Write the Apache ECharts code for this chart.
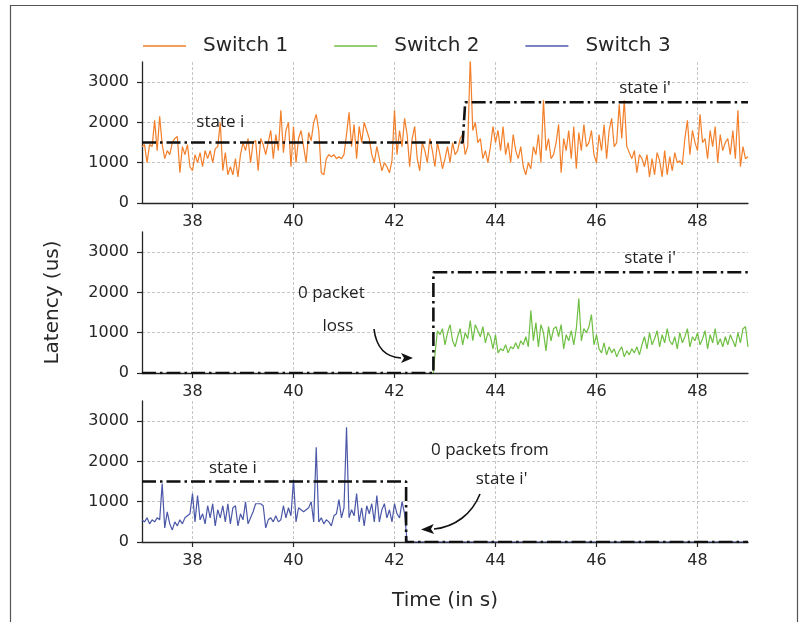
<!DOCTYPE html>
<html>
<head>
<meta charset="utf-8">
<title>Latency</title>
<style>
    html, body { margin: 0; background: #fff; }
    #chart { width: 804px; height: 622px; }
</style>
</head>
<body>
<div id="chart"></div>
<script src="https://cdn.jsdelivr.net/npm/echarts/dist/echarts.min.js"></script>
<script>
// sample spacing of the latency traces (s)
const STEP = 0.05;

// Switch 1: 37.00 .. 49.00 s
const switch1Start = 37;
const switch1 = [
    1400,1450,1000,1450,1400,2050,1300,2150,1450,1100,1300,1200,1500,1600,1650,750,1400,1200,1450,900,
    800,1200,1000,1250,900,1300,1100,1300,1000,1350,1400,2000,800,1250,700,900,700,1100,650,1200,
    1500,1300,1600,1000,1500,1550,800,1600,1450,1200,1500,1800,1100,1700,1300,2300,1250,1800,2000,900,
    1900,1000,1600,1800,1400,1000,1750,1550,2000,2200,1800,750,700,1100,1200,1150,1200,1100,1150,1100,
    1200,1700,2250,1400,1950,1100,1900,1500,2000,1800,1600,1200,1000,1400,1100,800,1000,900,750,1050,
    2300,1200,1800,1400,2100,1700,900,1600,1900,1100,800,1500,1300,1000,1600,1300,900,1500,1200,850,
    1100,1400,1000,1500,1200,1300,1600,1700,1200,1400,3600,1800,2000,1500,1600,1100,1300,1000,1400,1900,
    1500,1800,1300,1900,1200,1500,1000,1700,1300,1100,1400,900,700,1000,850,1400,1200,1700,1000,2550,
    1300,1600,1100,1200,1500,1950,750,1600,1300,1800,1100,1900,850,1750,1300,1950,1400,1500,1800,1200,
    1000,1700,1300,1950,1100,1800,2100,1400,1500,2450,1600,2550,1400,1250,1100,1300,750,1200,1100,900,
    1200,650,1100,700,1250,1050,650,1300,700,1150,800,1250,1000,1050,950,1600,2050,1200,1800,1500,
    1300,2200,1500,1600,1100,1800,1400,1900,1000,1700,1300,1500,1600,1200,1800,1100,2300,900,1400,1100,1150
];

// Switch 2: 42.80 .. 49.00 s (nothing before the switch-over)
const switch2Start = 42.8;
const switch2 = [
    450,1050,950,1100,700,1000,1200,800,650,900,1100,700,1000,850,1300,800,1200,1050,900,1150,
    750,1000,900,600,950,500,600,550,700,500,650,600,750,600,800,700,900,650,1550,800,
    1250,650,1200,1000,550,1150,800,1100,1150,900,1200,600,950,800,1050,700,1100,1850,800,1100,
    1000,1150,1450,700,950,600,500,750,450,650,500,600,400,550,650,400,550,450,600,500,
    650,450,700,900,600,1000,700,850,1050,650,950,750,1100,800,700,900,600,1000,750,900,
    1100,650,900,800,1000,700,850,1050,600,950,750,1100,700,850,650,900,700,950,800,650,
    1000,750,1100,1150,650
];

// Switch 3: 37.00 .. 42.20 s, then no packets
const switch3Start = 37;
const switch3 = [
    550,500,600,450,550,500,600,550,1450,350,750,450,300,500,400,550,450,600,650,700,
    1200,500,1150,550,700,450,900,600,950,400,800,600,900,500,950,450,850,900,400,700,
    550,1000,450,600,750,950,950,950,900,350,550,600,500,650,500,550,900,600,850,650,
    1550,500,850,800,750,800,850,1000,500,2350,500,600,450,550,500,400,650,700,1050,600,
    850,2850,600,800,650,1200,500,850,400,900,700,950,500,1150,500,800,950,600,800,500,
    950,700,600,1000,700
];
const switch3End = [[42.25, 0], [49, 0]];

// state levels (dash-dot)
const state1 = [[37, 1500], [43.35, 1500], [43.4, 2500], [49, 2500]];
const state2 = [[37, 0], [42.77, 0], [42.77, 2500], [49, 2500]];
const state3 = [[37, 1500], [42.23, 1500], [42.23, 0], [49, 0]];

const xTicks = [38, 40, 42, 44, 46, 48];
const yTicks = [0, 1000, 2000, 3000];
const names = ['Switch 1', 'Switch 2', 'Switch 3'];
const colors = ['#f27f2a', '#6fbf43', '#4b58a8'];

// annotation texts [grid, x, y, text]
const notes = [
    [0, 38.55, 2000, 'state i'],
    [0, 46.96, 2850, "state i'"],
    [1, 47.06, 2850, "state i'"],
    [1, 40.75, 1990, '0 packet'],
    [1, 40.88, 1170, 'loss'],
    [2, 38.8, 1840, 'state i'],
    [2, 43.89, 2280, '0 packets from'],
    [2, 44.12, 1560, "state i'"]
];
// curved arrows [grid, start, cp1, cp2, base, tip]
const arrows = [
    [1, [41.594, 1092], [41.634, 670], [41.792, 397], [42.129, 372], [42.366, 372]],
    [2, [43.693, 1191], [43.535, 695], [43.198, 372], [42.782, 323], [42.525, 310]]
];

function toPairs(values, start) {
    return values.map((v, i) => [+(start + i * STEP).toFixed(2), v]);
}

const ink = '#262626';
const gridTops = [62, 232, 401];

const option = {
    animation: false,
    textStyle: { fontFamily: 'DejaVu Sans' },
    legend: {
        data: names,
        top: 31,
        left: 138,
        icon: 'rect',
        itemWidth: 43,
        itemHeight: 1.6,
        itemGap: 46,
        textStyle: { fontSize: 20, color: ink, padding: [0, 0, 0, 12] }
    },
    grid: gridTops.map(t => ({ left: 142, right: 56, top: t, height: 141 })),
    xAxis: gridTops.map((t, i) => ({
        type: 'value',
        gridIndex: i,
        min: 37,
        max: 49,
        axisLine: { show: true, onZero: false, lineStyle: { color: ink, width: 1.3 } },
        axisTick: { show: true, length: 5, customValues: xTicks, lineStyle: { color: ink, width: 1.2 } },
        axisLabel: { customValues: xTicks, fontSize: 16, color: ink, margin: 11 },
        splitLine: { show: true, lineStyle: { color: '#b8b8b8', type: [3, 2], width: 0.8 } },
        name: i === 2 ? 'Time (in s)' : '',
        nameLocation: 'middle',
        nameGap: 49,
        nameTextStyle: { fontSize: 20, color: ink }
    })),
    yAxis: gridTops.map((t, i) => ({
        type: 'value',
        gridIndex: i,
        min: 0,
        max: 3500,
        axisLine: { show: true, onZero: false, lineStyle: { color: ink, width: 1.3 } },
        axisTick: { show: true, length: 5, customValues: yTicks, lineStyle: { color: ink, width: 1.2 } },
        axisLabel: { customValues: yTicks, fontSize: 16, color: ink, margin: 13, formatter: v => String(v) },
        splitLine: { show: true, lineStyle: { color: '#b8b8b8', type: [3, 2], width: 0.8 } },
        name: i === 1 ? 'Latency (us)' : '',
        nameLocation: 'middle',
        nameGap: 79,
        nameTextStyle: { fontSize: 20, color: ink }
    })),
    series: []
};

const traces = [
    toPairs(switch1, switch1Start),
    [[42.77, 0]].concat(toPairs(switch2, switch2Start)),
    toPairs(switch3, switch3Start).concat(switch3End)
];
const states = [state1, state2, state3];

traces.forEach((data, i) => {
    option.series.push({
        name: names[i],
        type: 'line',
        xAxisIndex: i,
        yAxisIndex: i,
        data: data,
        symbol: 'none',
        lineStyle: { color: colors[i], width: 1.2 },
        itemStyle: { color: colors[i] },
        z: 2
    });
});
states.forEach((data, i) => {
    option.series.push({
        name: 'state',
        type: 'line',
        xAxisIndex: i,
        yAxisIndex: i,
        data: data,
        symbol: 'none',
        silent: true,
        lineStyle: { color: '#111', width: 2.6, type: [14, 4, 2.5, 4], cap: 'butt' },
        z: 3
    });
});

const chart = echarts.init(document.getElementById('chart'));
chart.setOption(option);

// frame, annotations and arrows placed from data coordinates
const px = (g, p) => chart.convertToPixel({ gridIndex: g }, p);
const graphic = [{
    type: 'rect',
    shape: { x: 10.5, y: 5.5, width: 787, height: 700 },
    style: { fill: 'none', stroke: '#555', lineWidth: 1.2 },
    silent: true
}];
notes.forEach(([g, x, y, text]) => {
    const p = px(g, [x, y]);
    graphic.push({
        type: 'text', x: p[0], y: p[1],
        style: { text: text, fontFamily: 'Open Sans', fontSize: 17, fill: '#222', align: 'center', verticalAlign: 'middle' }
    });
});
arrows.forEach(([g, s, c1, c2, b, t]) => {
    const [p0, p1, p2, p3, tip] = [s, c1, c2, b, t].map(d => px(g, d));
    graphic.push({
        type: 'bezierCurve',
        shape: { x1: p0[0], y1: p0[1], cpx1: p1[0], cpy1: p1[1], cpx2: p2[0], cpy2: p2[1], x2: p3[0], y2: p3[1] },
        style: { stroke: '#111', lineWidth: 1.6, fill: 'none' }
    });
    let dx = tip[0] - p3[0], dy = tip[1] - p3[1];
    const len = Math.hypot(dx, dy);
    dx /= len; dy /= len;
    const w = 5;
    graphic.push({
        type: 'polygon',
        shape: { points: [
            tip,
            [p3[0] - dy * w, p3[1] + dx * w],
            [p3[0] + dx * 3, p3[1] + dy * 3],
            [p3[0] + dy * w, p3[1] - dx * w]
        ] },
        style: { fill: '#111' }
    });
});
chart.setOption({ graphic: graphic });
</script>
</body>
</html>
